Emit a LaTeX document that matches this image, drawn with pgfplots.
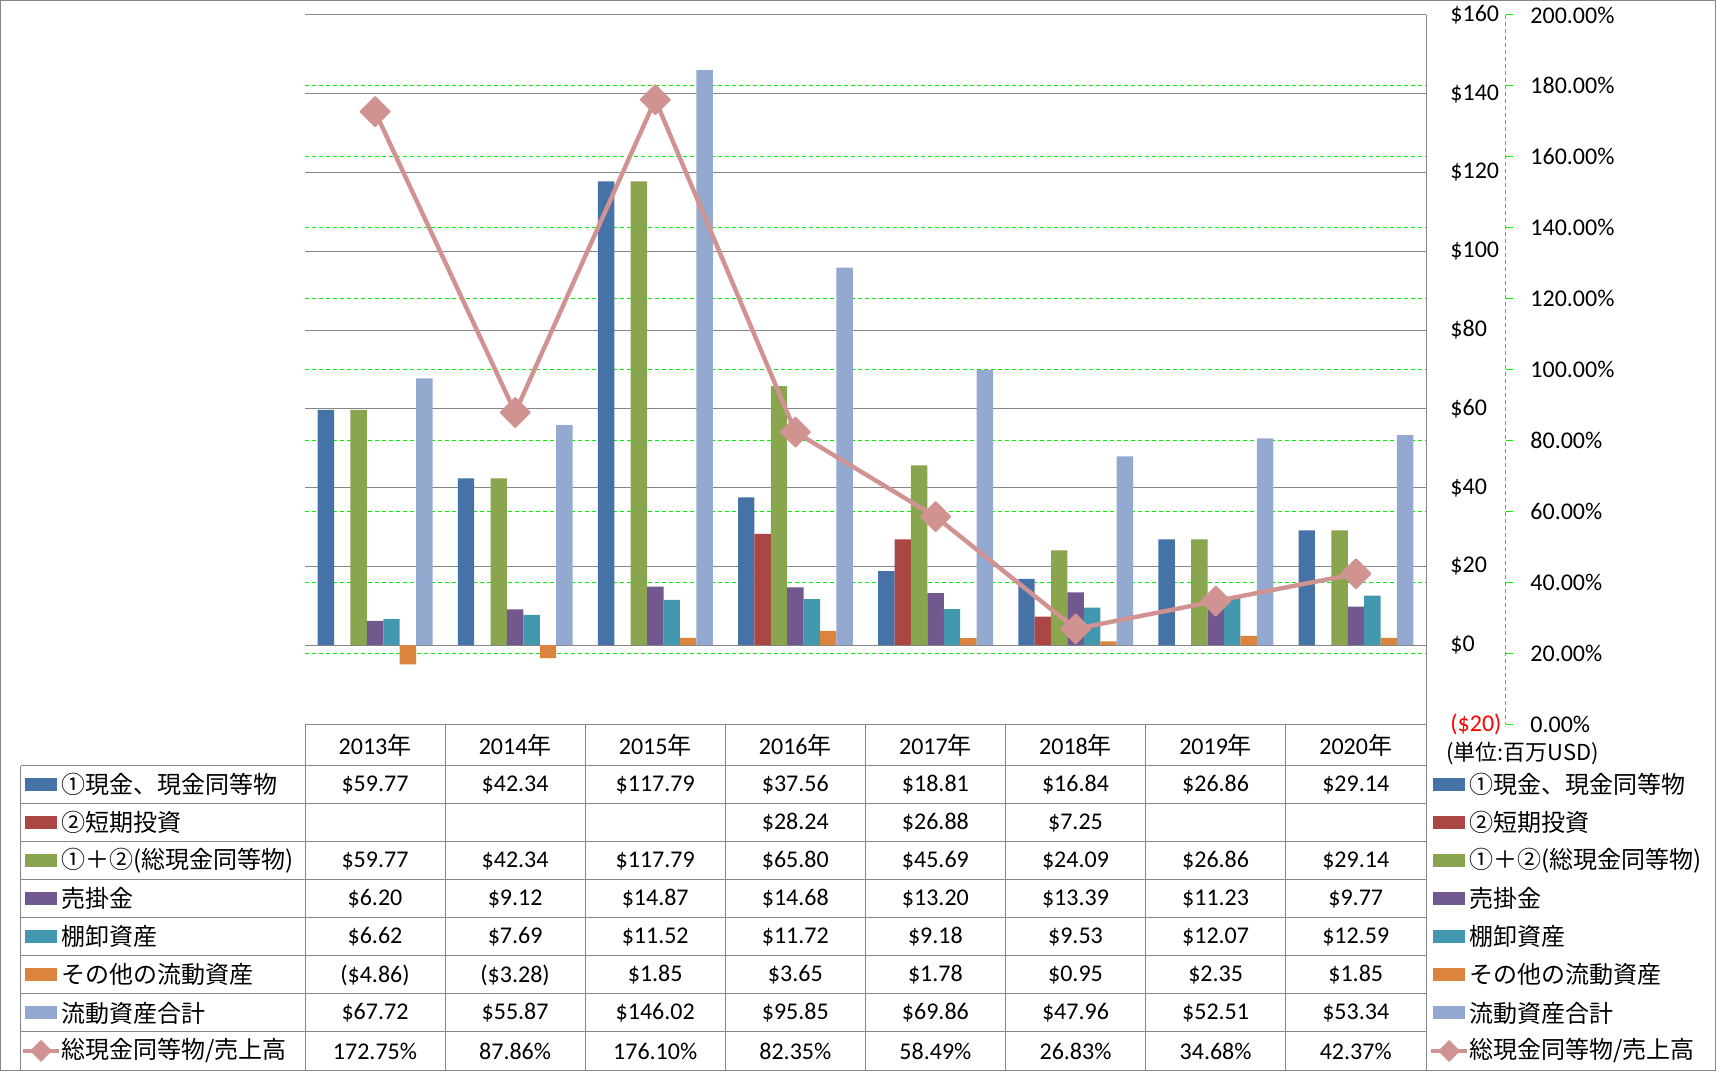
\documentclass[border=0pt]{standalone}
\usepackage{fontspec}
\setmainfont{Carlito}
\newfontfamily\cjk{Noto Sans CJK JP}
\usepackage{pgfplots}
\pgfplotsset{compat=1.18}

\definecolor{cBlue}{HTML}{4572A7}
\definecolor{cRed}{HTML}{AA4643}
\definecolor{cGreen}{HTML}{89A54E}
\definecolor{cPurple}{HTML}{71588F}
\definecolor{cTeal}{HTML}{4198AF}
\definecolor{cOrange}{HTML}{DB843D}
\definecolor{cLight}{HTML}{93A9CF}
\definecolor{cLine}{HTML}{D09392}
\definecolor{gridgray}{HTML}{868686}
\definecolor{brightgreen}{HTML}{00F000}

\pgfplotsset{
  base/.style={
    at={(152.5pt,173.5pt)}, anchor=south west,
    width=560.5pt, height=354.5pt, scale only axis,
    xmin=0, xmax=8, xtick=\empty,
    axis line style={draw=none},
    major tick length=0pt,
    tick label style={font=\fontsize{12pt}{14pt}\selectfont},
  },
  bars/.style={ybar, bar width=0.1171, draw=none},
}

\begin{document}
\fontsize{12pt}{14pt}\selectfont
\begin{tikzpicture}[x=0.5pt,y=0.5pt]
\useasboundingbox (0,0) rectangle (1716,1071);

% secondary scale: green grid and labels
\begin{axis}[base,
  ymin=0, ymax=200, ytick={0,20,...,200},
  ymajorgrids, grid style={brightgreen, line width=0.5pt, dash pattern=on 2pt off 1.5pt},
  yticklabel pos=right,
  yticklabel style={anchor=west, inner sep=0pt, xshift=52pt},
  yticklabels={0.00\%,20.00\%,40.00\%,60.00\%,80.00\%,100.00\%,120.00\%,140.00\%,160.00\%,180.00\%,200.00\%},
]
\end{axis}

% primary scale: bars
\begin{axis}[base,
  ymin=-20, ymax=160, ytick={-20,0,20,40,60,80,100,120,140,160},
  ymajorgrids, grid style={gridgray, line width=0.5pt},
  yticklabel pos=right,
  yticklabel style={anchor=west, inner sep=0pt, xshift=12pt},
  yticklabels={\textcolor{red}{(\$20)},\$0,\$20,\$40,\$60,\$80,\$100,\$120,\$140,\$160},
]
\addplot[bars, fill=cBlue, bar shift=-0.3514] coordinates {(0.5,59.77) (1.5,42.34) (2.5,117.79) (3.5,37.56) (4.5,18.81) (5.5,16.84) (6.5,26.86) (7.5,29.14)};
\addplot[bars, fill=cRed, bar shift=-0.2343] coordinates {(3.5,28.24) (4.5,26.88) (5.5,7.25)};
\addplot[bars, fill=cGreen, bar shift=-0.1171] coordinates {(0.5,59.77) (1.5,42.34) (2.5,117.79) (3.5,65.80) (4.5,45.69) (5.5,24.09) (6.5,26.86) (7.5,29.14)};
\addplot[bars, fill=cPurple, bar shift=0] coordinates {(0.5,6.20) (1.5,9.12) (2.5,14.87) (3.5,14.68) (4.5,13.20) (5.5,13.39) (6.5,11.23) (7.5,9.77)};
\addplot[bars, fill=cTeal, bar shift=0.1171] coordinates {(0.5,6.62) (1.5,7.69) (2.5,11.52) (3.5,11.72) (4.5,9.18) (5.5,9.53) (6.5,12.07) (7.5,12.59)};
\addplot[bars, fill=cOrange, bar shift=0.2343] coordinates {(0.5,-4.86) (1.5,-3.28) (2.5,1.85) (3.5,3.65) (4.5,1.78) (5.5,0.95) (6.5,2.35) (7.5,1.85)};
\addplot[bars, fill=cLight, bar shift=0.3514] coordinates {(0.5,67.72) (1.5,55.87) (2.5,146.02) (3.5,95.85) (4.5,69.86) (5.5,47.96) (6.5,52.51) (7.5,53.34)};
\end{axis}

% secondary scale: ratio line
\begin{axis}[base, ymin=0, ymax=200, hide axis]
\addplot[cLine, line width=2.2pt, mark=square*,
  mark options={rotate=45, fill=cLine, draw=cLine, line width=0.8pt, line join=round},
  mark size=5.2pt]
  coordinates {(0.5,172.75) (1.5,87.86) (2.5,176.10) (3.5,82.35) (4.5,58.49) (5.5,26.83) (6.5,34.68) (7.5,42.37)};
\end{axis}

\begin{scope}[shift={(0,1071)}, yscale=-1]
% secondary axis line with outward ticks
\draw[brightgreen, line width=0.5pt, dash pattern=on 2pt off 1.5pt] (1505.7,15) -- (1505.7,724);
\foreach \k in {0,...,10}
  \draw[brightgreen, line width=0.5pt] (1505.7,{15+70.9*\k}) -- ++(7,0);

% data table grid
\begin{scope}[gridgray, line width=0.5pt]
  \draw (305,724) -- (1426,724);
  \foreach \k in {0,...,7}
    \draw (20.7,{765.7+38.04*\k}) -- (1426,{765.7+38.04*\k});
  \draw (20.7,765.7) -- (20.7,1070.5);
  \foreach \k in {0,...,7}
    \draw ({305+140.1*\k},724) -- ({305+140.1*\k},1070.5);
  \draw (1426,15) -- (1426,1070.5);
  \draw (0.5,0.5) rectangle (1715.5,1070.5);
\end{scope}

% year header
\foreach \t [count=\i from 0] in {2013,2014,2015,2016,2017,2018,2019,2020}
  \node at ({375+140.1*\i},745) {\t{\cjk 年}};

% table values
\foreach \r/\vals in {
  0/{\$59.77,\$42.34,\$117.79,\$37.56,\$18.81,\$16.84,\$26.86,\$29.14},
  2/{\$59.77,\$42.34,\$117.79,\$65.80,\$45.69,\$24.09,\$26.86,\$29.14},
  3/{\$6.20,\$9.12,\$14.87,\$14.68,\$13.20,\$13.39,\$11.23,\$9.77},
  4/{\$6.62,\$7.69,\$11.52,\$11.72,\$9.18,\$9.53,\$12.07,\$12.59},
  5/{(\$4.86),(\$3.28),\$1.85,\$3.65,\$1.78,\$0.95,\$2.35,\$1.85},
  6/{\$67.72,\$55.87,\$146.02,\$95.85,\$69.86,\$47.96,\$52.51,\$53.34},
  7/{172.75\%,87.86\%,176.10\%,82.35\%,58.49\%,26.83\%,34.68\%,42.37\%}}
{
  \foreach \v [count=\i from 0] in \vals
    \node at ({375+140.1*\i},{784.7+38.04*\r}) {\v};
}
\node at ({375+140.1*3},{784.7+38.04}) {\$28.24};
\node at ({375+140.1*4},{784.7+38.04}) {\$26.88};
\node at ({375+140.1*5},{784.7+38.04}) {\$7.25};

% legend keys and names, left and right of the table
\foreach \xk/\xt in {25/61, 1433/1469}{
  \foreach \c/\name [count=\r from 0] in {
    cBlue/{①現金、現金同等物},
    cRed/{②短期投資},
    cGreen/{①＋②(総現金同等物)},
    cPurple/{売掛金},
    cTeal/{棚卸資産},
    cOrange/{その他の流動資産},
    cLight/{流動資産合計}}
  {
    \fill[\c] (\xk,{784.7+38.04*\r-6.5}) rectangle ++(32,13);
    \node[anchor=west, inner sep=0pt] at (\xt,{784.7+38.04*\r}) {\cjk\name};
  }
  \draw[cLine, line width=2.2pt] ({\xk-2},{784.7+38.04*7}) -- ++(36,0);
  \fill[cLine] ({\xk+16},{784.7+38.04*7-11}) -- ++(11,11) -- ++(-11,11) -- ++(-11,-11) -- cycle;
  \node[anchor=west, inner sep=0pt] at (\xt,{784.7+38.04*7}) {\cjk 総現金同等物/売上高};
}

\node[anchor=west, inner sep=0pt] at (1446,753) {\cjk\fontsize{11pt}{13pt}\selectfont (単位:百万USD)};
\end{scope}
\end{tikzpicture}
\end{document}
